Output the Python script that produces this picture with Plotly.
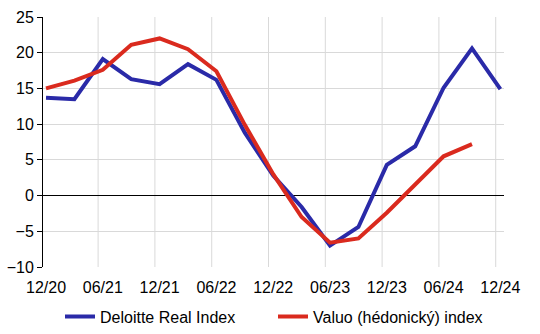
import plotly.graph_objects as go

# Quarterly periods, 12/2020 .. 12/2024
periods = ["12/20", "03/21", "06/21", "09/21", "12/21", "03/22", "06/22", "09/22",
           "12/22", "03/23", "06/23", "09/23", "12/23", "03/24", "06/24", "09/24", "12/24"]

deloitte = [13.7, 13.5, 19.1, 16.3, 15.6, 18.4, 16.2, 8.8,
            2.8, -1.6, -7.0, -4.4, 4.3, 6.9, 15.1, 20.6, 14.9]
valuo = [15.0, 16.1, 17.6, 21.1, 22.0, 20.5, 17.4, 9.9,
         3.0, -3.0, -6.6, -6.0, -2.4, 1.6, 5.5, 7.2]

tick_labels = ["12/20", "06/21", "12/21", "06/22", "12/22", "06/23", "12/23", "06/24", "12/24"]

BLUE = "#2A2AA8"
RED = "#DA2A1E"
GRID = "#D9D9D9"
FONT = "Liberation Sans, Arial, sans-serif"
GRID_SHIFT = 0.165  # vertical grid lines sit slightly before each labelled period
X_RANGE = [-0.106, 16.127]

x_idx = list(range(len(periods)))

fig = go.Figure()
fig.add_trace(go.Scatter(x=x_idx, y=deloitte, mode="lines", name="Deloitte Real Index",
                         line=dict(color=BLUE, width=4)))
fig.add_trace(go.Scatter(x=x_idx[:len(valuo)], y=valuo, mode="lines", name="Valuo (hédonický) index",
                         line=dict(color=RED, width=4)))

tick_pos = [periods.index(t) for t in tick_labels]

# vertical grid lines, drawn under the data
for p in tick_pos:
    gx = p - GRID_SHIFT
    if X_RANGE[0] < gx < X_RANGE[1]:
        fig.add_shape(type="line", xref="x", yref="paper", x0=gx, x1=gx, y0=0, y1=1,
                      line=dict(color=GRID, width=1), layer="below")

fig.update_layout(
    width=540, height=334,
    margin=dict(l=43, r=36, t=17, b=67, autoexpand=False),
    paper_bgcolor="white", plot_bgcolor="white",
    font=dict(family=FONT, size=16, color="#000000"),
    showlegend=True,
    legend=dict(orientation="h", xref="paper",
                x=17 / 461, xanchor="left", y=-0.13, yanchor="top",
                font=dict(size=16), entrywidth=168, entrywidthmode="pixels",
                tracegroupgap=0, borderwidth=0, bgcolor="rgba(0,0,0,0)"),
    xaxis=dict(
        range=X_RANGE,
        tickmode="array",
        tickvals=tick_pos,
        ticktext=tick_labels,
        ticklabelstandoff=9,
        showgrid=False,
        ticks="", showline=False, zeroline=False,
    ),
    yaxis=dict(
        range=[-10, 25], dtick=5, tick0=0,
        showgrid=True, gridcolor=GRID, gridwidth=1,
        zeroline=True, zerolinecolor="#000000", zerolinewidth=1,
        showline=True, linecolor="#000000", linewidth=1,
        ticks="outside", ticklen=5, tickcolor="#000000",
    ),
)

fig.write_html("out.html")
